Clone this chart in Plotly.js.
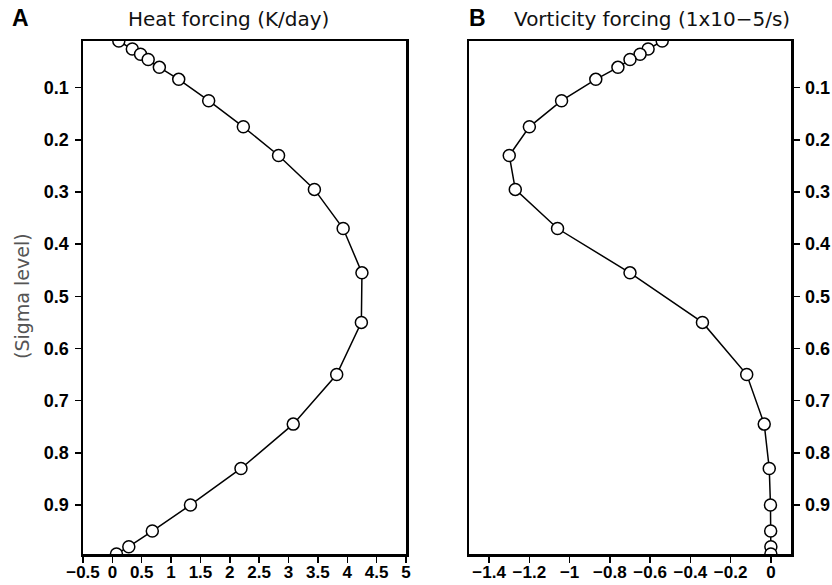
<!DOCTYPE html>
<html>
<head>
<meta charset="utf-8">
<script src="https://cdn.plot.ly/plotly-3.0.1.min.js"></script>
<style>
html,body{margin:0;padding:0;background:#fff;}
#chart{width:832px;height:585px;}
</style>
</head>
<body>
<div id="chart"></div>
<script>
// Sigma levels (shared by both panels)
const sigmaLevels = [0.0105, 0.026, 0.036, 0.046, 0.061, 0.084, 0.125, 0.175, 0.23, 0.295,
                     0.37, 0.455, 0.55, 0.65, 0.745, 0.83, 0.9, 0.95, 0.98, 0.994];
// Panel A: heat forcing (K/day)
const heatForcing = [0.11, 0.34, 0.48, 0.61, 0.80, 1.13, 1.64, 2.23, 2.83, 3.44,
                     3.93, 4.25, 4.24, 3.82, 3.08, 2.19, 1.33, 0.68, 0.28, 0.07];
// Panel B: vorticity forcing (1x10-5/s)
const vortForcing = [-0.54, -0.61, -0.65, -0.70, -0.76, -0.87, -1.04, -1.20, -1.30, -1.27,
                     -1.06, -0.70, -0.34, -0.12, -0.033, -0.008, -0.002, -0.001, 0, 0];

const heatTicks = [-0.5, 0, 0.5, 1, 1.5, 2, 2.5, 3, 3.5, 4, 4.5, 5];
const vortTicks = [-1.4, -1.2, -1, -0.8, -0.6, -0.4, -0.2, 0];
const sigmaTicks = [0.1, 0.2, 0.3, 0.4, 0.5, 0.6, 0.7, 0.8, 0.9];

const W = 832, H = 585;
const px = v => v / W;
const py = v => 1 - v / H;

const markerStyle = {symbol: 'circle', size: 12, color: '#ffffff', line: {color: '#000', width: 1.5}};
const lineStyle = {color: '#000', width: 1.5};

const traces = [
  {x: heatForcing, y: sigmaLevels, xaxis: 'x', yaxis: 'y', mode: 'lines+markers',
   line: lineStyle, marker: markerStyle, cliponaxis: true, hoverinfo: 'x+y'},
  {x: vortForcing, y: sigmaLevels, xaxis: 'x2', yaxis: 'y2', mode: 'lines+markers',
   line: lineStyle, marker: markerStyle, cliponaxis: true, hoverinfo: 'x+y'}
];

const tickFont = {family: 'Liberation Sans, Arial, sans-serif', size: 18, color: '#000', weight: 'bold'};
const xTickFont = {family: 'Liberation Sans, Arial, sans-serif', size: 17, color: '#000', weight: 'bold'};
const commonAxis = {
  showline: true, linecolor: '#000', linewidth: 2.5, mirror: true,
  ticks: 'outside', ticklen: 6, tickwidth: 1.5, tickcolor: '#000',
  showgrid: false, zeroline: false, tickfont: tickFont, fixedrange: true
};
const yDomain = [1 - 554 / H, 1 - 41 / H];

const layout = {
  width: W, height: H,
  margin: {l: 0, r: 0, t: 0, b: 0},
  paper_bgcolor: '#fff', plot_bgcolor: '#fff',
  showlegend: false,
  xaxis: Object.assign({}, commonAxis, {
    domain: [px(83), px(406)], range: [-0.5, 5], tickmode: 'array', tickvals: heatTicks,
    anchor: 'y', tickfont: xTickFont, ticklabelstandoff: -5
  }),
  yaxis: Object.assign({}, commonAxis, {
    domain: yDomain, range: [0.994, 0.0105], tickmode: 'array', tickvals: sigmaTicks,
    anchor: 'x', side: 'left', ticklabelstandoff: 2
  }),
  xaxis2: Object.assign({}, commonAxis, {
    domain: [px(469), px(791)], range: [-1.5, 0.1], tickmode: 'array', tickvals: vortTicks,
    anchor: 'y2', tickfont: xTickFont, ticklabelstandoff: -5
  }),
  yaxis2: Object.assign({}, commonAxis, {
    domain: yDomain, range: [0.994, 0.0105], tickmode: 'array', tickvals: sigmaTicks,
    anchor: 'x2', side: 'right', ticklabelstandoff: 2
  }),
  annotations: [
    {text: 'A', x: px(20), y: py(18), xref: 'paper', yref: 'paper', xanchor: 'center', yanchor: 'middle',
     showarrow: false, font: {family: 'Liberation Sans, Arial, sans-serif', size: 23, color: '#000', weight: 'bold'}},
    {text: 'Heat forcing (K/day)', x: px(126), y: py(19), xref: 'paper', yref: 'paper', xanchor: 'left', yanchor: 'middle',
     showarrow: false, font: {family: 'DejaVu Sans, sans-serif', size: 20, color: '#111'}},
    {text: 'B', x: px(478), y: py(18), xref: 'paper', yref: 'paper', xanchor: 'center', yanchor: 'middle',
     showarrow: false, font: {family: 'Liberation Sans, Arial, sans-serif', size: 23, color: '#000', weight: 'bold'}},
    {text: 'Vorticity forcing (1x10\u22125/s)', x: px(512), y: py(19), xref: 'paper', yref: 'paper', xanchor: 'left', yanchor: 'middle',
     showarrow: false, font: {family: 'DejaVu Sans, sans-serif', size: 20, color: '#111'}},
    {text: '(Sigma level)', x: px(22), y: py(296), xref: 'paper', yref: 'paper', xanchor: 'center', yanchor: 'middle',
     textangle: -90, showarrow: false, font: {family: 'DejaVu Sans, sans-serif', size: 19, color: '#555'}}
  ]
};

Plotly.newPlot('chart', traces, layout, {displayModeBar: false, staticPlot: true});
</script>
</body>
</html>
